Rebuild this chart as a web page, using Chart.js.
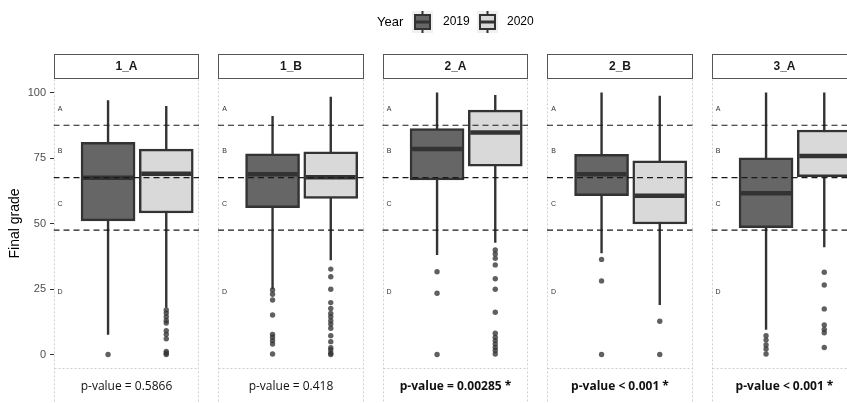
<!DOCTYPE html>
<html>
<head>
<meta charset="utf-8">
<script src="https://cdn.jsdelivr.net/npm/chart.js@4/dist/chart.umd.min.js"></script>
<style>
  html, body { margin: 0; padding: 0; background: #fff; overflow: hidden; }
  canvas { display: block; }
</style>
</head>
<body>
<canvas id="c" width="847" height="403"></canvas>
<script>
// ---- data ----
const panels = ['1_A', '1_B', '2_A', '2_B', '3_A'];
const years = ['2019', '2020'];
const pValues = ['p-value = 0.5866', 'p-value = 0.418', 'p-value = 0.00285 *', 'p-value < 0.001 *', 'p-value < 0.001 *'];
const significant = [false, false, true, true, true];
const yTicks = [0, 25, 50, 75, 100];

// [lower whisker, Q1, median, Q3, upper whisker] per course
const stats2019 = [
  [7.5, 51, 67.5, 81, 97],
  [25, 56, 68.8, 76.6, 91],
  [38, 66.6, 78.4, 86.2, 100],
  [38.6, 60.6, 68.8, 76.4, 100],
  [9.4, 48.4, 61.5, 75.1, 100]
];
const stats2020 = [
  [17.8, 54, 69, 78.4, 94.8],
  [36, 59.6, 67.7, 77.4, 98.4],
  [42.7, 71.9, 84.7, 93.3, 99],
  [18.9, 49.8, 60.6, 73.9, 98.8],
  [40.9, 67.9, 75.8, 85.7, 100]
];
const outliers2019 = [
  [0],
  [24.6, 23, 20.8, 15.1, 7.7, 6.6, 5.3, 4, 0.2],
  [31.6, 23.4, 0],
  [36.3, 28.1, 0],
  [7.2, 5.5, 3.6, 2.1, 0.2]
];
const outliers2020 = [
  [17, 15.8, 14.4, 13, 12, 9.1, 7.7, 6, 1.2, 0.5, 0],
  [32.6, 29.7, 24.9, 19.8, 17.6, 15.7, 14.4, 12.9, 11.6, 10, 7.2, 4.9, 2.6, 1.7, 0.5, 0],
  [39.9, 38.4, 36.7, 34.2, 28.9, 24.9, 16.1, 8.1, 6.6, 5.3, 4, 2.7, 1.5, 0.2],
  [12.7, 0],
  [31.4, 26.5, 17.4, 11.3, 9.6, 8.3, 2.7]
];

// grade boundaries and the letter bands between them
const gradeCuts = [87.5, 67.5, 47.5];
const gradeLetters = ['A', 'B', 'C', 'D'];
const letterLevels = [93.75, 77.5, 57.5, 23.75];

// ---- facet geometry (in x-axis units: one facet = 1 unit) ----
const FACET_PX = 145.5;             // facet width in pixels
const STEP = 164.5 / FACET_PX;      // facet width + spacing
const OFFS = [0.375, 0.775];        // dodge position of each year inside a facet
const AXIS_W = 53.5;                // width reserved for the y axis
const fills = ['#666666', '#d9d9d9'];
const ink = '#333333';
const sans = '"Liberation Sans", Arial, sans-serif';

const xOf = (p, yi) => p * STEP + OFFS[yi];
const statsBy = [stats2019, stats2020];
const outBy = [outliers2019, outliers2020];

function whiskerData(yi) {
  const d = [];
  statsBy[yi].forEach((s, p) => {
    const x = xOf(p, yi);
    d.push({ x, y: s[0] }, { x, y: s[4] }, { x, y: null });
  });
  return d;
}
function boxData(yi) {
  return statsBy[yi].map((s, p) => ({ x: xOf(p, yi), y: [s[1], s[3]] }));
}
function medianData(yi) {
  return statsBy[yi].map((s, p) => ({ x: xOf(p, yi), y: s[2] }));
}
function outlierData(yi) {
  const d = [];
  outBy[yi].forEach((arr, p) => arr.forEach(v => d.push({ x: xOf(p, yi), y: v })));
  return d;
}
function cutData() {
  const d = [];
  panels.forEach((_, p) => gradeCuts.forEach(c => {
    d.push({ x: p * STEP, y: c }, { x: p * STEP + 1, y: c }, { x: p * STEP + 1, y: null });
  }));
  return d;
}

const datasets = [];
years.forEach((yr, yi) => {
  datasets.push({
    type: 'line', label: yr + ' whisker', data: whiskerData(yi),
    borderColor: ink, borderWidth: 2.4, pointRadius: 0, spanGaps: false, order: 6
  });
  datasets.push({
    type: 'bar', label: yr, data: boxData(yi),
    backgroundColor: fills[yi], borderColor: ink, borderWidth: 2.5,
    borderSkipped: false, barThickness: 54, grouped: false, order: 5
  });
  datasets.push({
    type: 'scatter', label: yr + ' median', data: medianData(yi),
    pointStyle: 'line', pointRadius: 25, pointBorderWidth: 4.5, borderColor: ink,
    order: 4
  });
  datasets.push({
    type: 'scatter', label: yr + ' outliers', data: outlierData(yi),
    pointRadius: 2.7, pointBorderWidth: 0, backgroundColor: 'rgba(51,51,51,0.78)',
    order: 3
  });
});
datasets.push({
  type: 'line', label: 'grade cuts', data: cutData(),
  borderColor: '#1a1a1a', borderWidth: 1.2, borderDash: [6, 4], pointRadius: 0,
  spanGaps: false, order: 1
});

// facet frames, strips, grade letters, p-values and the legend
const facetDecor = {
  id: 'facetDecor',
  beforeDatasetsDraw(chart) {
    const { ctx, scales: { x }, chartArea: a } = chart;
    ctx.save();
    ctx.strokeStyle = '#cfcfcf';
    ctx.lineWidth = 1;
    ctx.setLineDash([2, 2]);
    panels.forEach((_, p) => {
      const l = Math.round(x.getPixelForValue(p * STEP)) + 0.5;
      const r = Math.round(x.getPixelForValue(p * STEP + 1)) - 0.5;
      ctx.beginPath();
      ctx.moveTo(l, a.top); ctx.lineTo(l, 410);
      ctx.moveTo(r, a.top); ctx.lineTo(r, 410);
      ctx.moveTo(l, Math.round(a.bottom) + 0.5); ctx.lineTo(r, Math.round(a.bottom) + 0.5);
      ctx.stroke();
    });
    ctx.restore();
  },
  afterDraw(chart) {
    const { ctx, scales: { x, y } } = chart;
    ctx.save();
    panels.forEach((name, p) => {
      const l = Math.round(x.getPixelForValue(p * STEP));
      const r = Math.round(x.getPixelForValue(p * STEP + 1));
      const cx = (l + r) / 2;
      // strip
      ctx.fillStyle = '#ffffff';
      ctx.fillRect(l, 54, r - l, 24);
      ctx.strokeStyle = '#555555';
      ctx.lineWidth = 1;
      ctx.strokeRect(l + 0.5, 54.5, r - l - 1, 24);
      ctx.fillStyle = '#1a1a1a';
      ctx.font = 'bold 12px ' + sans;
      ctx.textAlign = 'center';
      ctx.textBaseline = 'middle';
      ctx.fillText(name, cx, 67);
      // grade letters
      ctx.font = '7px ' + sans;
      ctx.fillStyle = '#333333';
      gradeLetters.forEach((g, k) => {
        ctx.fillText(g, x.getPixelForValue(p * STEP + 0.045), y.getPixelForValue(letterLevels[k]));
      });
      // p-value
      ctx.fillStyle = '#111111';
      ctx.font = (significant[p] ? 'bold ' : '') + '12px "Open Sans", sans-serif';
      ctx.fillText(pValues[p], cx, 387);
    });

    // legend
    ctx.textBaseline = 'middle';
    ctx.textAlign = 'left';
    ctx.fillStyle = '#000';
    ctx.font = '13px ' + sans;
    ctx.fillText('Year', 377, 22);
    const keyX = [412, 477];
    const labX = [443, 507];
    years.forEach((yr, yi) => {
      const kx = keyX[yi];
      ctx.fillStyle = '#f0f0f0';
      ctx.fillRect(kx, 11, 21, 22);
      ctx.strokeStyle = ink;
      ctx.lineWidth = 2;
      ctx.beginPath();
      ctx.moveTo(kx + 10.5, 11); ctx.lineTo(kx + 10.5, 33);
      ctx.stroke();
      ctx.fillStyle = fills[yi];
      ctx.fillRect(kx + 3, 15, 15, 14);
      ctx.strokeRect(kx + 3, 15, 15, 14);
      ctx.lineWidth = 3;
      ctx.beginPath();
      ctx.moveTo(kx + 3, 22); ctx.lineTo(kx + 18, 22);
      ctx.stroke();
      ctx.fillStyle = '#000';
      ctx.font = '12px ' + sans;
      ctx.fillText(yr, labX[yi], 22);
    });
    ctx.restore();
  }
};

const canvas = document.getElementById('c');
const W = 847;
new Chart(canvas, {
  type: 'bar',
  data: { datasets },
  options: {
    responsive: false,
    maintainAspectRatio: false,
    animation: false,
    devicePixelRatio: 1,
    layout: { autoPadding: false, padding: { top: 79.4, bottom: 35.4, left: 0, right: 0 } },
    plugins: { legend: { display: false }, tooltip: { enabled: false } },
    scales: {
      x: {
        type: 'linear', display: false, offset: false,
        // the axis runs to the page edge; the last facet is cut off there
        min: 0, max: (W - AXIS_W) / FACET_PX
      },
      y: {
        min: -5, max: 105,
        afterFit(s) { s.width = AXIS_W; },
        afterBuildTicks(s) { s.ticks = yTicks.map(v => ({ value: v })); },
        ticks: { color: '#4d4d4d', font: { family: sans, size: 11 }, padding: 4 },
        grid: { drawOnChartArea: false, drawTicks: true, tickLength: 3.5, color: '#333333' },
        border: { display: false },
        title: {
          display: true, text: 'Final grade', color: '#000',
          font: { family: sans, size: 14 }, padding: { top: 6.6, bottom: 0 }
        }
      }
    }
  },
  plugins: [facetDecor]
});
</script>
</body>
</html>
